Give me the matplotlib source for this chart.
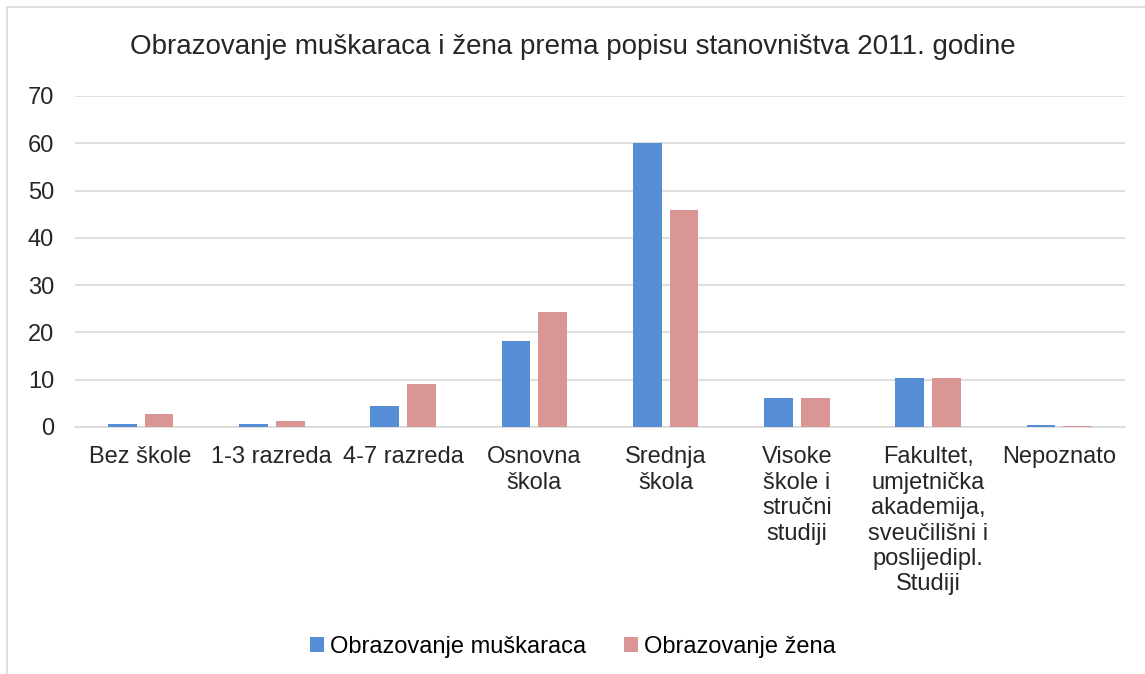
import matplotlib
matplotlib.use("Agg")
import matplotlib.pyplot as plt
import numpy as np
from matplotlib.patches import Rectangle

categories = ["Bez škole", "1-3 razreda", "4-7 razreda", "Osnovna\nškola", "Srednja\nškola",
              "Visoke\nškole i\nstručni\nstudiji",
              "Fakultet,\numjetnička\nakademija,\nsveučilišni i\nposlijedipl.\nStudiji",
              "Nepoznato"]
muskarci = [0.6, 0.6, 4.4, 18.2, 60.0, 6.1, 10.4, 0.4]
zene = [2.7, 1.3, 9.1, 24.3, 45.9, 6.1, 10.4, 0.3]
yticks = [0, 10, 20, 30, 40, 50, 60, 70]

plt.rcParams['font.family'] = ['Liberation Sans', 'DejaVu Sans']

fig = plt.figure(figsize=(11.45, 6.74), dpi=100)
ax = fig.add_axes([0.0655, 0.3665, 0.917, 0.4911])

x = np.arange(len(categories))
w = 0.22
gap = 0.06
c_m = "#558ED5"
c_z = "#D99694"
ax.bar(x - (w + gap) / 2, muskarci, w, color=c_m, label="Obrazovanje muškaraca", zorder=3)
ax.bar(x + (w + gap) / 2, zene, w, color=c_z, label="Obrazovanje žena", zorder=3)

ax.set_xlim(-0.5, len(categories) - 0.5)
ax.set_ylim(0, 70)
ax.set_yticks(yticks)
ax.set_yticklabels([str(v) for v in yticks], fontsize=17)
ax.yaxis.grid(True, color="#D9D9D9", linewidth=1.2, zorder=0)
ax.set_xticks(x)
ax.set_xticklabels(categories, fontsize=17, linespacing=1.2, va="top")
ax.tick_params(axis="both", length=0, colors="#262626")
ax.tick_params(axis="x", pad=14)
ax.tick_params(axis="y", pad=15)
for s in ["top", "right", "left"]:
    ax.spines[s].set_visible(False)
ax.spines["bottom"].set_color("#D9D9D9")
ax.spines["bottom"].set_linewidth(1.2)

fig.text(0.5, 0.931, "Obrazovanje muškaraca i žena prema popisu stanovništva 2011. godine",
         ha="center", va="center", fontsize=20, color="#262626")

fig.legend(loc="center", bbox_to_anchor=(0.5, 0.04), ncol=2, frameon=False, fontsize=17,
           handlelength=0.6, handleheight=0.6, handletextpad=0.25, columnspacing=1.6)

fig.patches.append(Rectangle((0.006, -0.01), 1.2, 0.999, transform=fig.transFigure,
                             fill=False, edgecolor="#D9D9D9", linewidth=1.2))

fig.savefig("out.png", dpi=100, facecolor="white")
